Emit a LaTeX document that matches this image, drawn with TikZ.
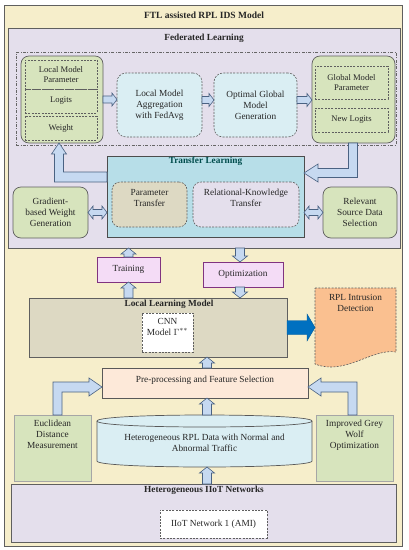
\documentclass[tikz,border=0pt]{standalone}
\usepackage{fontspec}
\setmainfont{Liberation Serif}
\usetikzlibrary{calc}
\definecolor{bgY}{HTML}{F6EECB}
\definecolor{lav}{HTML}{E4DFEC}
\definecolor{grn}{HTML}{D7E4BD}
\definecolor{lblue}{HTML}{DAEEF3}
\definecolor{tlblue}{HTML}{B7DEE8}
\definecolor{tanc}{HTML}{DDD9C3}
\definecolor{pinkb}{HTML}{F4DCF6}
\definecolor{peach}{HTML}{FDE9D9}
\definecolor{orng}{HTML}{FAC090}
\definecolor{darrow}{HTML}{0070C0}
\definecolor{arrfill}{HTML}{C6D9F1}
\definecolor{arrline}{HTML}{4A6282}
\definecolor{framec}{HTML}{5F5F5F}
\definecolor{txt}{HTML}{262626}

% vertical block arrow: #2 from, #3 to, #4 shaft half, #5 head half, #6 head length
\newcommand\VArrow[6][blk]{\draw[#1] let \p1=#2, \p2=#3, \n1={sign(\y2-\y1)} in
  ({\x1-#4},\y1) -- ({\x1-#4},{\y2-(\n1)*#6}) -- ({\x1-#5},{\y2-(\n1)*#6}) -- (\x1,\y2)
  -- ({\x1+#5},{\y2-(\n1)*#6}) -- ({\x1+#4},{\y2-(\n1)*#6}) -- ({\x1+#4},\y1) -- cycle;}
% horizontal block arrow
\newcommand\HArrow[6][blk]{\draw[#1] let \p1=#2, \p2=#3, \n1={sign(\x2-\x1)} in
  (\x1,{\y1-#4}) -- ({\x2-(\n1)*#6},{\y1-#4}) -- ({\x2-(\n1)*#6},{\y1-#5}) -- (\x2,\y1)
  -- ({\x2-(\n1)*#6},{\y1+#5}) -- ({\x2-(\n1)*#6},{\y1+#4}) -- (\x1,{\y1+#4}) -- cycle;}
% double horizontal block arrow (left to right)
\newcommand\DArrow[5]{\draw[blk] let \p1=#1, \p2=#2 in
  (\x1,\y1) -- ({\x1+#5},{\y1+#4}) -- ({\x1+#5},{\y1+#3}) -- ({\x2-#5},{\y1+#3}) -- ({\x2-#5},{\y1+#4})
  -- (\x2,\y1) -- ({\x2-#5},{\y1-#4}) -- ({\x2-#5},{\y1-#3}) -- ({\x1+#5},{\y1-#3}) -- ({\x1+#5},{\y1-#4}) -- cycle;}

\begin{document}
\begin{tikzpicture}[x=1pt,y=-1pt,
  every node/.style={align=center, text=txt, font=\fontsize{9.3}{11}\selectfont, inner sep=0pt, outer sep=0pt},
  container/.style={draw=framec, line width=0.8pt},
  titlef/.style={font=\bfseries\fontsize{9.3}{11}\selectfont},
  grnbox/.style={draw=framec, line width=0.7pt, fill=grn, rounded corners=8pt},
  sqgrn/.style={draw=gray!70, line width=0.7pt, fill=grn},
  dbox/.style={draw=framec, line width=0.6pt, dash pattern=on 2pt off 1.3pt},
  lbbox/.style={dbox, fill=lblue, rounded corners=9pt},
  pbox/.style={draw=violet!60!gray, line width=0.7pt, fill=pinkb},
  smallf/.style={font=\fontsize{8.6}{10.5}\selectfont},
  blk/.style={draw=arrline, line width=0.6pt, fill=arrfill, line join=miter},
  bluearr/.style={draw=darrow!80!black, line width=0.4pt, fill=darrow}]
\useasboundingbox (0,0) rectangle (408,550);

% outer frame
\node[container, fill=bgY, minimum width=398pt, minimum height=541pt] (outer) at (203,275.5) {};
\node[font=\bfseries\fontsize{9.5}{11}\selectfont] (title) at (204,15) {FTL assisted RPL IDS Model};

% federated learning
\node[container, fill=lav, minimum width=392pt, minimum height=220pt] (fl) at (204,138) {};
\node[titlef] (flt) at (204,38) {Federated Learning};
\node[draw=gray!80!black, line width=0.5pt, dash pattern=on 3pt off 1.5pt on 0.8pt off 1.5pt,
      minimum width=380pt, minimum height=93pt] (fed) at (206,98.5) {};

\node[grnbox, minimum width=82pt, minimum height=87pt] (lg) at (62,99.5) {};
\node[dbox, smallf, minimum width=72pt, minimum height=29pt] (lmp) at (61,74.5) {Local Model\\Parameter};
\node[dbox, smallf, minimum width=72pt, minimum height=24pt] (logits) at (61,101) {Logits};
\node[dbox, smallf, minimum width=72pt, minimum height=24pt] (weight) at (61,128) {Weight};

\node[lbbox, minimum width=85pt, minimum height=64pt] (agg) at (159.5,105) {Local Model\\Aggregation\\with FedAvg};
\node[lbbox, minimum width=83pt, minimum height=64pt] (ogm) at (255.5,105) {Optimal Global\\Model\\Generation};

\node[grnbox, minimum width=83pt, minimum height=87pt] (rg) at (353.5,99.5) {};
\node[dbox, smallf, minimum width=73pt, minimum height=33pt] (gmp) at (351.5,82.5) {Global Model\\Parameter};
\node[dbox, smallf, minimum width=73pt, minimum height=24pt] (nl) at (351.5,120) {New Logits};

% transfer learning
\node[draw=gray!60!black, line width=0.8pt, fill=tlblue, minimum width=197pt, minimum height=81pt] (tl) at (205.5,196.5) {};
\node[titlef, text=teal!60!black] (tlt) at (205.5,161) {Transfer Learning};
\node[dbox, fill=tanc, rounded corners=8pt, minimum width=75pt, minimum height=45pt] (pt) at (149.5,204.5) {};
\node (ptt) at (149.5,197.5) {Parameter\\Transfer};
\node[dbox, fill=lav, rounded corners=8pt, minimum width=106pt, minimum height=45pt] (rk) at (246,204.5) {};
\node (rkt) at (246,197.5) {Relational-Knowledge\\Transfer};

\node[grnbox, minimum width=75pt, minimum height=51pt] (gw) at (50.5,212.5) {Gradient-\\based Weight\\Generation};
\node[grnbox, minimum width=74pt, minimum height=51pt] (rs) at (360,212.5) {Relevant\\Source Data\\Selection};

% training / optimization
\node[pbox, minimum width=63pt, minimum height=25pt] (train) at (128.5,269.5) {Training};
\node[pbox, minimum width=80pt, minimum height=25pt] (opt) at (243,274.5) {Optimization};

% local learning model
\node[container, fill=tanc, minimum width=258pt, minimum height=59pt] (llm) at (158,327.5) {};
\node[titlef] (llmt) at (169,304) {Local Learning Model};
\node[dbox, fill=white, minimum width=51pt, minimum height=39pt] (cnn) at (167.5,332.5) {};
\node (cnnt) at (167.5,327) {CNN\\Model $\Gamma^{**}$};

% RPL intrusion detection (document shape)
\node[minimum width=81pt, minimum height=79pt] (rpl) at (355.5,327.5) {};
\draw[dbox, fill=orng] (rpl.north west) -- (rpl.north east) -- (396,352)
   .. controls (372,348) and (345,376) .. (315,364) -- cycle;
\node (rplt) at (355.5,302.5) {RPL Intrusion\\Detection};

% pre-processing
\node[draw=gray!70!black, line width=0.7pt, fill=peach, minimum width=206pt, minimum height=30pt] (pp) at (205,383) {};
\node (ppt) at (205,380) {Pre-processing and Feature Selection};

% side boxes
\node[sqgrn, minimum width=77pt, minimum height=66pt] (ed) at (52.5,448) {};
\node (edt) at (52.5,434.5) {Euclidean\\Distance\\Measurement};
\node[sqgrn, minimum width=77pt, minimum height=66pt] (igw) at (354.5,448) {};
\node (igwt) at (354.5,435) {Improved Grey\\Wolf\\Optimization};

% cylinder
\node[minimum width=215pt, minimum height=52pt] (cyl) at (204.5,441) {};
\draw[draw=gray!70!black, line width=0.7pt, fill=lblue] (97,421) -- (97,461)
   .. controls (97,469) and (312,469) .. (312,461) -- (312,421)
   .. controls (312,413) and (97,413) .. (97,421) -- cycle;
\draw[draw=gray!70!black, line width=0.7pt] (97,421) .. controls (97,429) and (312,429) .. (312,421);
\node (cylt) at (204.5,442.5) {Heterogeneous RPL Data with Normal and\\Abnormal Traffic};

% heterogeneous IIoT networks
\node[container, fill=lav, minimum width=385pt, minimum height=58pt] (hn) at (203.5,513) {};
\node[titlef] (hnt) at (204,490) {Heterogeneous IIoT Networks};
\node[dbox, fill=white, minimum width=107pt, minimum height=28pt] (ami) at (213.5,524) {IIoT Network 1 (AMI)};

% helper coordinates
\coordinate (ox) at (240,0);
\coordinate (cx) at (207,0);
\coordinate (eL) at (59,177);
\coordinate (eR) at (353,173);
\coordinate (eLL) at (57.5,387);
\coordinate (eRR) at (352.5,387);

% FL horizontal arrows
\HArrow{(lg.east)}{(agg.west)}{3.5pt}{6.5pt}{5pt}
\HArrow{([yshift=5pt]agg.east)}{(ogm.west)}{3.5pt}{6.5pt}{5pt}
\HArrow{([yshift=5pt]ogm.east)}{(rg.west)}{3.5pt}{6.5pt}{5pt}

% double arrows
\DArrow{(gw.east)}{(tl.west |- gw.east)}{3pt}{6.5pt}{5pt}
\DArrow{(tl.east |- rs.west)}{(rs.west)}{3pt}{6.5pt}{5pt}

% elbow: TL -> left green box
\draw[blk] let \p1=(tl.west), \p2=(lg.south), \p3=(eL) in
  (\x1,{\y3+5pt}) -- ({\x3+4.5pt},{\y3+5pt}) -- ({\x3+4.5pt},{\y2-11pt}) -- ({\x3+7.5pt},{\y2-11pt})
  -- (\x3,\y2) -- ({\x3-7.5pt},{\y2-11pt}) -- ({\x3-4.5pt},{\y2-11pt}) -- ({\x3-4.5pt},{\y3-5pt})
  -- (\x1,{\y3-5pt}) -- cycle;
% elbow: right green box -> TL
\draw[blk] let \p1=(tl.east), \p2=(rg.south), \p3=(eR) in
  ({\x3-4.5pt},\y2) -- ({\x3-4.5pt},{\y3+4.5pt}) -- ({\x1+14pt},{\y3+4.5pt}) -- ({\x1+14pt},{\y3+9pt})
  -- (\x1,\y3) -- ({\x1+14pt},{\y3-9pt}) -- ({\x1+14pt},{\y3-4.5pt}) -- ({\x3+4.5pt},{\y3-4.5pt})
  -- ({\x3+4.5pt},\y2) -- cycle;

% vertical arrows
\VArrow{(train.north)}{(train.north |- fl.south)}{4.5pt}{7.5pt}{6pt}
\VArrow{(train.south |- llm.north)}{(train.south)}{4.5pt}{7.5pt}{6pt}
\VArrow{(ox |- fl.south)}{(ox |- opt.north)}{4.5pt}{7.5pt}{6pt}
\VArrow{(ox |- opt.south)}{(ox |- llm.north)}{4.5pt}{7.5pt}{6pt}
\VArrow{(cx |- pp.north)}{(cx |- llm.south)}{4.5pt}{7.5pt}{6pt}
\VArrow{(cx |- cyl.north)}{(cx |- pp.south)}{4.5pt}{7.5pt}{6pt}
\VArrow{(cx |- hn.north)}{(cx |- cyl.south)}{4.5pt}{7.5pt}{6pt}

% blue output arrow
\HArrow[bluearr]{(llm.east)}{(rpl.west)}{7pt}{13.5pt}{8pt}

% lower elbows
\draw[blk] let \p1=(ed.north), \p2=(pp.west), \p3=(eLL) in
  ({\x3-4.5pt},\y1) -- ({\x3-4.5pt},{\y3+5pt}) -- ({\x2-13pt},{\y3+5pt}) -- ({\x2-13pt},{\y3+9pt})
  -- (\x2,\y3) -- ({\x2-13pt},{\y3-9pt}) -- ({\x2-13pt},{\y3-5pt}) -- ({\x3+4.5pt},{\y3-5pt})
  -- ({\x3+4.5pt},\y1) -- cycle;
\draw[blk] let \p1=(igw.north), \p2=(pp.east), \p3=(eRR) in
  ({\x3+4.5pt},\y1) -- ({\x3+4.5pt},{\y3+5pt}) -- ({\x2+13pt},{\y3+5pt}) -- ({\x2+13pt},{\y3+9pt})
  -- (\x2,\y3) -- ({\x2+13pt},{\y3-9pt}) -- ({\x2+13pt},{\y3-5pt}) -- ({\x3-4.5pt},{\y3-5pt})
  -- ({\x3-4.5pt},\y1) -- cycle;
\end{tikzpicture}
\end{document}
